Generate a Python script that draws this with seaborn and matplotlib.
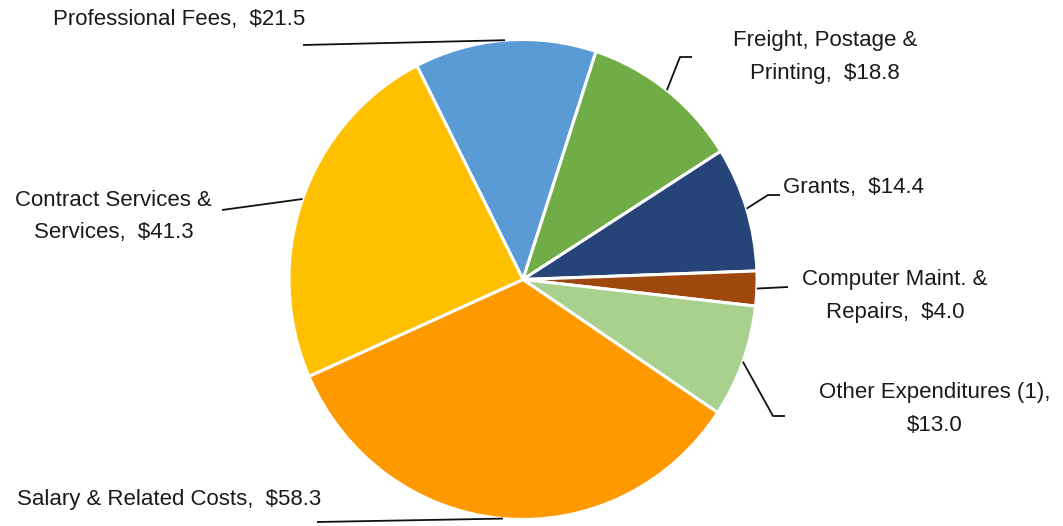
import numpy as np
import matplotlib
matplotlib.use("Agg")
import matplotlib.pyplot as plt
import seaborn as sns

# ---- data ----
categories = ["Professional Fees", "Freight, Postage &\nPrinting", "Grants",
              "Computer Maint. &\nRepairs", "Other Expenditures (1)",
              "Salary & Related Costs", "Contract Services &\nServices"]
values = [21.5, 18.8, 14.4, 4.0, 13.0, 58.3, 41.3]
separators = ["  ", "  ", "  ", "  ", "\n", "  ", "  "]
colors = ["#5B9BD5", "#70AD47", "#264478", "#9E480E", "#A9D18E", "#FF9900", "#FFC000"]

sns.set_theme(style="white")
plt.rcParams["font.family"] = ["Liberation Sans", "DejaVu Sans"]

W, H = 1063, 526
fig = plt.figure(figsize=(W / 100, H / 100), dpi=100)
cx, cy, rx, ry = 523, 279.5, 234, 240
ax = fig.add_axes([(cx - rx) / W, (H - cy - ry) / H, 2 * rx / W, 2 * ry / H])

wedges, _ = ax.pie(values, colors=colors, startangle=117, counterclock=False,
                   wedgeprops=dict(edgecolor="white", linewidth=2.2))
ax.set_aspect("auto")
ax.set_xlim(-1, 1)
ax.set_ylim(-1, 1)
ax.axis("off")


def P(x, y):
    return ((x - cx) / rx, (cy - y) / ry)


# leader-line bend points (pixels) and label anchors (pixels)
leaders = [
    [(303, 45)],
    [(680, 57), (692, 57)],
    [(768, 195), (780, 195)],
    [(788, 287)],
    [(773, 416), (785, 416)],
    [(317, 522)],
    [(222, 210)],
]
anchors = [
    (179, 20, "center"),
    (825, 57, "center"),
    (783, 188, "left"),
    (895, 296, "center"),
    (935, 409, "center"),
    (169, 500, "center"),
    (113.5, 216.5, "center"),
]

for w, cat, v, sep, pts, (tx, ty, ha) in zip(wedges, categories, values, separators, leaders, anchors):
    th = np.deg2rad((w.theta1 + w.theta2) / 2)
    xs = [np.cos(th)] + [P(*p)[0] for p in pts]
    ys = [np.sin(th)] + [P(*p)[1] for p in pts]
    ax.plot(xs, ys, color="#111111", lw=1.3, clip_on=False, solid_capstyle="butt")
    label = f"{cat},{sep}${v:.1f}"
    x, y = P(tx, ty)
    ax.text(x, y, label, ha=ha, va="center", multialignment="center",
            fontsize=16, color="#1a1a1a", linespacing=1.72)

fig.savefig("out.png", dpi=100)
